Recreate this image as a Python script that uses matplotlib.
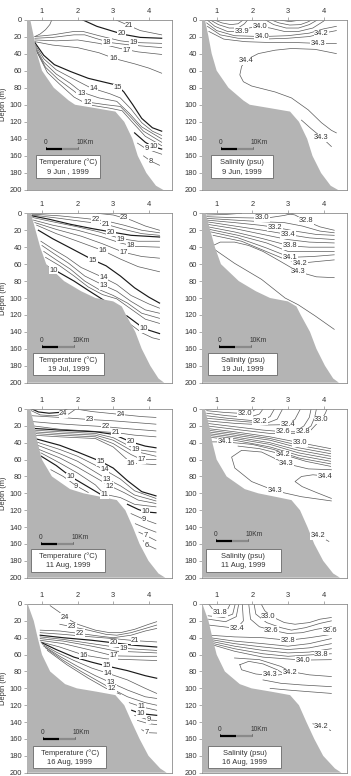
import matplotlib
matplotlib.use("Agg")
import matplotlib.pyplot as plt

plt.rcParams['font.family'] = ['Liberation Sans', 'DejaVu Sans']

# ---------------- axes / common ----------------
STATIONS = [1, 2, 3, 4]
STATION_LABELS = ["1", "2", "3", "4"]
DEPTH_TICKS = [0, 20, 40, 60, 80, 100, 120, 140, 160, 180, 200]
KM_PER_STATION = 11.1
SCALE_KM = 10

# ---------------- bathymetry (station units, depth m) ----------------
BATHY_D = [0, 20, 40, 60, 80, 95, 100, 104, 108, 120, 140, 160, 180, 195, 200]
BATHY_JUN = [0.67, 0.77, 0.86, 1.0, 1.33, 1.75, 1.93, 2.5, 3.06, 3.31, 3.54, 3.69, 3.93, 4.2, 4.41]
BATHY_JUL_D = [0, 20, 40, 60, 80, 92, 100, 104, 110, 120, 140, 160, 180, 195, 200]
BATHY_JUL = [0.69, 0.82, 0.95, 1.12, 1.62, 2.1, 2.5, 3.0, 3.24, 3.36, 3.62, 3.8, 4.04, 4.27, 4.43]
BATHY_AUG11 = [0.67, 0.79, 0.88, 1.0, 1.28, 1.79, 2.17, 2.64, 3.1, 3.34, 3.55, 3.74, 3.99, 4.27, 4.46]
BATHY_AUG16 = [0.6, 0.77, 0.88, 1.0, 1.23, 1.65, 1.98, 2.54, 3.06, 3.31, 3.52, 3.74, 3.99, 4.32, 4.5]

# ---------------- 9 Jun temperature ----------------
T_JUN_LINES = [
    [(3.05, 0), (3.38, 6), (3.76, 13), (4.36, 18)],
    [(2.12, 0), (2.54, 8), (3.01, 14), (3.29, 17.5), (3.76, 21), (4.36, 22)],
    [(1.28, 0), (1.22, 6), (1.1, 12), (0.95, 17), (0.8, 20)],
    [(0.8, 20), (1.3, 18), (1.9, 14), (2.15, 14), (2.6, 19), (3.2, 25), (3.6, 27), (4.36, 28)],
    [(0.8, 22), (1.3, 21), (1.9, 18), (2.2, 18), (2.5, 22), (2.9, 27), (3.5, 30), (4.36, 33)],
    [(0.8, 24), (1.4, 25), (2.0, 24), (2.6, 28), (3.2, 34), (3.7, 38), (4.36, 41)],
    [(0.8, 26), (1.3, 30), (2.0, 33), (2.6, 39), (3.05, 46), (3.6, 52), (4.0, 57), (4.36, 63)],
    [(0.8, 27), (1.05, 42), (1.35, 53), (1.8, 61), (2.3, 69), (2.8, 74), (3.1, 77), (3.3, 85), (3.55, 100), (3.8, 116), (4.1, 127), (4.36, 131)],
    [(0.8, 29), (1.05, 46), (1.4, 59), (1.85, 69), (2.36, 80), (2.9, 87), (3.2, 92), (3.5, 105), (3.8, 121), (4.1, 131), (4.36, 136)],
    [(0.8, 31), (1.05, 50), (1.4, 64), (1.8, 75), (2.1, 85), (2.6, 92), (3.1, 96), (3.45, 110), (3.8, 126), (4.36, 140)],
    [(0.8, 33), (1.1, 56), (1.45, 70), (1.9, 84), (2.3, 97), (2.8, 100), (3.2, 102), (3.5, 115), (3.85, 131), (4.36, 144)],
    [(0.82, 35), (1.15, 62), (1.5, 76), (1.9, 91), (2.3, 100), (2.9, 104), (3.25, 107), (3.55, 121), (3.9, 137), (4.36, 148)],
    [(3.6, 133), (3.9, 144), (4.1, 149), (4.36, 152)],
    [(3.68, 145), (3.9, 151), (4.15, 155), (4.36, 158)],
    [(3.85, 160), (4.05, 166), (4.3, 171)],
]
T_JUN_BOLD = [False, True, False, False, False, False, False, True, False, False, False, False, True, False, False]
T_JUN_LABELS = [("21", 3.45, 7.5), ("20", 3.24, 17), ("19", 3.57, 27), ("18", 2.82, 26.5),
                ("17", 3.38, 36), ("16", 3.0, 45.5), ("15", 3.12, 80), ("14", 2.45, 81),
                ("13", 2.1, 87), ("12", 2.27, 97), ("10", 4.13, 149), ("9", 3.94, 151), ("8", 4.05, 166.5)]

# ---------------- 9 Jun salinity ----------------
S_JUN_LINES = [
    [(0.72, 0), (0.95, 8), (1.3, 14), (1.6, 14), (1.9, 10), (2.2, 8), (2.5, 10), (2.9, 14), (3.3, 14), (3.7, 10), (4.0, 2), (4.05, 0)],
    [(0.8, 0), (1.05, 6), (1.35, 10), (1.6, 10), (1.78, 5), (1.88, 0)],
    [(0.9, 0), (1.15, 4), (1.4, 6), (1.6, 5), (1.76, 0)],
    [(2.35, 0), (2.6, 6), (2.95, 10), (3.3, 10), (3.6, 6), (3.85, 0)],
    [(2.5, 0), (2.75, 4), (3.05, 6.5), (3.35, 6), (3.55, 3), (3.7, 0)],
    [(2.7, 0), (3.05, 2.5), (3.45, 0)],
    [(0.72, 4), (1.0, 13), (1.5, 19), (2.26, 20), (3.0, 19), (3.6, 16), (4.0, 11), (4.36, 8)],
    [(0.74, 8), (1.1, 18), (1.6, 22), (2.3, 23), (3.0, 22), (3.6, 20), (3.94, 16.5), (4.36, 13)],
    [(0.78, 14), (1.2, 23), (1.8, 26), (2.5, 27), (3.2, 27), (3.85, 28), (4.36, 28)],
    [(4.36, 40), (3.76, 35), (3.1, 34), (2.64, 36), (2.17, 40), (1.84, 47), (1.7, 55), (1.65, 65), (1.75, 73),
     (1.98, 78), (2.64, 85), (3.1, 92), (3.57, 106), (3.94, 121), (4.22, 130), (4.36, 133)],
    [(3.38, 118), (3.65, 128), (3.94, 138), (4.22, 149)],
]
S_JUN_BOLD = [False] * len(S_JUN_LINES)
S_JUN_LABELS = [("33.9", 1.7, 13.5), ("34.0", 2.21, 8), ("34.0", 2.26, 19.5), ("34.2", 3.94, 16.5),
                ("34.3", 3.85, 28), ("34.4", 1.84, 48.5), ("34.3", 3.94, 138.5)]

# ---------------- 19 Jul temperature ----------------
T_JUL_LINES = [
    [(2.55, 0), (3.0, 2), (3.5, 8), (3.9, 15), (4.3, 20)],
    [(0.72, 1), (1.5, 3), (2.2, 6), (2.8, 9), (3.3, 14), (3.8, 20), (4.3, 23)],
    [(0.72, 2), (1.5, 6), (2.2, 10), (2.8, 13), (3.3, 19), (3.8, 24), (4.3, 26)],
    [(0.72, 3), (1.2, 7), (1.8, 13), (2.4, 18), (2.94, 22), (3.5, 26), (4.3, 28)],
    [(0.74, 5), (1.3, 10), (2.0, 16), (2.6, 22), (3.22, 30), (3.7, 33), (4.3, 33)],
    [(0.76, 8), (1.3, 14), (2.0, 20), (2.7, 28), (3.2, 35), (3.6, 39), (4.3, 40)],
    [(0.8, 11), (1.4, 19), (2.1, 27), (2.7, 36), (3.29, 46), (3.8, 51), (4.3, 53)],
    [(0.85, 14), (1.4, 24), (2.0, 33), (2.71, 44), (3.2, 54), (3.7, 63), (4.3, 69)],
    [(0.9, 20), (1.3, 30), (1.8, 41), (2.43, 55), (2.8, 62), (3.2, 74), (3.6, 88), (4.0, 99), (4.3, 106)],
    [(0.97, 33), (1.3, 42), (1.7, 52), (2.1, 64), (2.73, 76), (3.1, 84), (3.5, 97), (4.0, 107), (4.3, 112)],
    [(1.0, 38), (1.35, 48), (1.75, 59), (2.2, 74), (2.73, 85), (3.1, 92), (3.5, 104), (3.9, 114), (4.3, 118)],
    [(1.05, 45), (1.4, 55), (1.8, 66), (2.2, 80), (2.6, 90), (3.0, 97), (3.4, 106), (3.8, 118), (4.3, 124)],
    [(1.1, 52), (1.5, 62), (1.9, 74), (2.3, 87), (2.7, 96), (3.1, 101), (3.5, 113), (3.9, 125), (4.3, 130)],
    [(1.12, 62), (1.4, 68), (1.9, 80), (2.3, 91), (2.75, 103)],
    [(3.38, 121), (3.7, 131), (3.85, 136), (4.3, 142)],
    [(3.45, 130), (3.8, 141), (4.1, 147), (4.3, 149)],
]
T_JUL_BOLD = [False, False, False, True, False, False, False, False, True, False, False, False, False, True, True, False]
T_JUL_LABELS = [("23", 3.31, 5.5), ("22", 2.5, 7.5), ("21", 2.8, 13), ("20", 2.94, 22.5), ("19", 3.22, 30.5),
                ("18", 3.48, 38.5), ("17", 3.29, 46.5), ("16", 2.71, 44.5), ("15", 2.43, 55.5), ("14", 2.73, 76),
                ("13", 2.73, 85.5), ("10", 1.33, 67.5), ("10", 3.85, 136)]

# ---------------- 19 Jul salinity ----------------
S_JUL_LINES = [
    [(0.72, 2), (1.2, 1.5), (1.7, 0)],
    [(0.72, 4), (1.4, 5), (2.0, 5.5), (2.5, 5), (2.9, 2.5), (3.15, 0)],
    [(2.95, 0), (3.2, 2), (3.5, 9), (3.9, 16), (4.3, 20)],
    [(0.72, 6), (1.5, 8), (2.3, 10), (2.9, 11), (3.4, 15), (3.9, 21), (4.3, 23)],
    [(0.72, 8), (1.5, 11), (2.2, 14), (2.64, 16.5), (3.2, 21), (3.8, 25), (4.3, 26)],
    [(0.72, 10), (1.5, 15), (2.3, 20), (3.0, 25), (3.6, 29), (4.3, 31)],
    [(0.74, 13), (1.5, 18), (2.3, 25), (3.0, 31), (3.6, 34), (4.3, 35)],
    [(0.76, 16), (1.5, 22), (2.3, 30), (3.06, 38.5), (3.6, 40), (4.3, 40)],
    [(0.8, 19), (1.6, 26), (2.4, 35), (3.0, 45), (3.6, 45), (4.3, 45)],
    [(0.84, 22), (1.6, 29), (2.4, 41), (3.06, 52), (3.7, 51), (4.3, 49)],
    [(0.9, 26), (1.7, 33), (2.5, 47), (2.9, 54), (3.34, 59), (3.8, 57), (4.3, 55)],
    [(4.3, 76), (3.8, 75), (3.29, 69), (2.8, 57), (2.3, 45), (1.9, 38), (1.5, 34), (1.1, 34), (0.9, 38), (0.95, 43),
     (1.5, 59), (2.26, 78), (2.92, 100), (3.29, 108), (3.76, 121), (4.3, 137)],
]
S_JUL_BOLD = [False] * len(S_JUL_LINES)
S_JUL_LABELS = [("33.0", 2.28, 5.5), ("32.8", 3.5, 9), ("33.2", 2.64, 16.5), ("33.4", 3.0, 25),
                ("33.8", 3.06, 38.5), ("34.1", 3.06, 52), ("34.2", 3.34, 59), ("34.3", 3.29, 69)]

# ---------------- 11 Aug temperature ----------------
T_AUG11_LINES = [
    [(0.72, 0), (0.9, 3.5), (1.2, 5), (1.5, 4), (1.7, 0)],
    [(0.7, 2), (0.95, 7), (1.3, 8), (1.75, 6), (1.95, 0)],
    [(1.95, 0), (2.4, 3), (3.21, 6.5), (3.8, 9), (4.2, 10)],
    [(0.72, 8), (1.5, 10), (2.34, 12.5), (3.0, 14), (3.6, 16), (4.2, 18)],
    [(0.75, 15), (1.3, 17), (2.0, 19), (2.78, 21), (3.3, 23), (4.2, 26)],
    [(0.75, 20), (1.5, 24), (2.3, 26), (3.08, 28), (3.6, 31), (4.2, 33)],
    [(0.75, 23), (1.5, 25), (2.5, 27), (3.0, 30), (3.5, 39), (3.9, 44), (4.2, 46)],
    [(0.75, 25), (1.5, 27), (2.5, 29), (3.0, 34), (3.64, 48), (4.2, 51)],
    [(0.75, 27), (1.5, 29), (2.5, 31), (3.0, 37), (3.5, 49), (4.2, 56)],
    [(0.75, 29), (1.5, 31), (2.5, 33), (3.0, 41), (3.5, 54), (3.8, 60), (4.2, 60)],
    [(0.75, 31), (1.5, 33), (2.5, 35), (3.0, 45), (3.5, 64), (4.2, 66)],
    [(0.8, 35), (1.5, 43), (2.0, 51), (2.64, 62), (3.0, 70), (3.4, 85), (3.8, 98), (4.2, 103)],
    [(0.84, 39), (1.5, 48), (2.0, 56), (2.75, 72), (3.2, 83), (3.6, 97), (4.2, 106)],
    [(0.88, 43), (1.5, 53), (2.0, 62), (2.82, 83), (3.2, 91), (3.6, 102), (4.2, 109)],
    [(0.92, 48), (1.5, 58), (2.0, 69), (2.9, 91), (3.3, 99), (3.7, 108), (4.2, 112)],
    [(0.97, 52), (1.5, 64), (2.0, 76), (2.5, 90), (2.75, 101), (3.2, 105), (3.6, 113), (4.2, 116)],
    [(0.98, 56), (1.4, 67), (1.8, 80), (2.2, 90), (2.64, 101), (2.8, 104)],
    [(1.25, 72), (1.6, 80), (1.96, 91), (2.3, 99)],
    [(3.4, 113), (3.7, 119), (3.9, 122), (4.2, 123)],
    [(3.5, 124), (3.87, 131), (4.2, 136)],
    [(3.62, 136), (3.95, 142), (4.2, 146)],
    [(3.72, 146), (3.92, 150), (4.2, 156)],
    [(3.84, 156), (3.94, 161), (4.2, 166)],
]
T_AUG11_BOLD = [True, False, False, False, False, False, True, False, False, False, False, True, False, False, False,
                False, True, False, True, False, False, False, False]
T_AUG11_LABELS = [("24", 1.6, 5.5), ("24", 3.21, 6.5), ("23", 2.34, 12.5), ("22", 2.78, 21), ("21", 3.08, 28),
                  ("20", 3.5, 39), ("19", 3.64, 48.5), ("17", 3.8, 60), ("16", 3.5, 64.5), ("15", 2.64, 62.5),
                  ("14", 2.75, 72), ("13", 2.82, 83.5), ("12", 2.9, 91.5), ("11", 2.75, 101.5), ("10", 1.8, 80.5),
                  ("9", 1.96, 91.5), ("10", 3.9, 122), ("9", 3.87, 131.5), ("7", 3.92, 150), ("6", 3.94, 161.5)]

# ---------------- 11 Aug salinity ----------------
S_AUG11_LINES = [
    [(0.72, 2), (1.2, 4), (1.8, 5.5), (2.0, 3), (2.1, 0)],
    [(0.72, 5), (1.3, 8), (1.9, 10), (2.2, 6), (2.3, 0)],
    [(0.72, 8), (1.3, 11), (2.21, 14.5), (2.5, 9), (2.62, 0)],
    [(0.72, 11), (1.5, 14), (2.4, 17), (2.7, 12), (2.85, 0)],
    [(0.72, 14), (1.5, 17), (2.4, 19), (3.0, 18.5), (3.2, 12), (3.35, 0)],
    [(0.72, 17), (1.5, 21), (2.3, 25), (2.87, 27), (3.2, 27), (3.45, 20), (3.6, 10), (3.65, 0)],
    [(0.72, 20), (1.5, 24), (2.5, 29), (3.2, 29), (3.43, 27), (3.65, 20), (3.75, 10), (3.8, 0)],
    [(3.6, 27), (3.8, 18), (3.94, 13), (4.05, 5), (4.1, 0)],
    [(0.72, 23), (1.5, 27), (2.5, 33), (3.34, 40), (4.2, 47)],
    [(0.72, 25), (1.5, 29), (2.5, 35), (3.3, 43), (4.2, 50)],
    [(0.72, 27), (1.5, 31), (2.5, 37), (3.3, 46), (4.2, 53)],
    [(0.72, 29), (1.5, 33), (2.5, 40), (3.3, 49), (4.2, 56)],
    [(0.72, 31), (1.5, 35), (2.5, 42), (3.3, 52), (4.2, 59)],
    [(0.72, 33), (1.5, 37), (2.5, 45), (3.3, 55), (4.2, 62)],
    [(0.75, 39), (1.23, 39), (2.0, 42), (2.6, 48), (3.3, 58), (4.2, 65)],
    [(1.6, 44), (2.2, 47), (2.87, 54), (3.5, 62), (4.2, 68)],
    [(4.22, 72), (3.57, 71), (2.92, 64.5), (2.26, 51), (1.7, 49), (1.42, 57), (1.51, 70), (1.98, 86), (2.64, 97),
     (3.38, 104), (4.22, 109)],
    [(4.22, 80), (3.7, 78), (3.38, 80), (3.2, 86), (3.4, 92), (3.8, 99), (4.22, 106)],
    [(3.7, 146), (3.85, 150), (4.15, 157)],
]
S_AUG11_BOLD = [False] * len(S_AUG11_LINES)
S_AUG11_LABELS = [("32.0", 1.8, 5.5), ("32.2", 2.21, 14.5), ("32.4", 3.0, 18.5), ("33.0", 3.94, 13),
                  ("32.6", 2.87, 27), ("32.8", 3.43, 27), ("34.1", 1.23, 39), ("33.0", 3.34, 40),
                  ("34.2", 2.87, 54), ("34.3", 2.96, 64.5), ("34.4", 4.04, 80), ("34.3", 2.64, 97),
                  ("34.2", 3.85, 150)]

# ---------------- 16 Aug temperature ----------------
T_AUG16_LINES = [
    [(1.23, 2), (1.5, 10), (1.65, 16), (2.0, 24), (2.5, 31), (2.9, 34), (3.2, 34), (3.6, 30), (4.0, 24), (4.22, 21)],
    [(1.5, 24), (1.84, 27), (2.3, 31), (2.8, 36), (3.1, 37), (3.5, 34), (3.9, 29), (4.22, 25)],
    [(0.95, 31), (1.5, 32), (2.07, 35), (2.6, 38), (3.0, 40), (3.5, 37), (3.9, 32), (4.22, 29)],
    [(0.95, 34), (1.6, 36), (2.4, 39), (3.0, 41), (3.62, 43.5), (4.22, 45)],
    [(0.95, 37), (1.6, 40), (2.4, 43), (3.01, 46), (3.6, 49), (4.22, 51)],
    [(0.95, 39), (1.6, 42), (2.4, 47), (3.29, 52.5), (3.8, 54), (4.22, 55)],
    [(0.95, 41), (1.6, 44), (2.4, 50), (3.1, 56), (3.7, 57), (4.22, 58)],
    [(0.95, 43), (1.6, 47), (2.4, 55), (3.01, 61.5), (3.7, 62), (4.22, 62)],
    [(0.97, 45), (1.5, 51), (2.17, 60.5), (2.8, 65), (3.5, 66), (4.22, 67)],
    [(1.0, 46), (1.4, 54), (1.9, 63), (2.4, 69), (2.82, 73.5), (3.4, 79), (3.9, 85), (4.22, 88)],
    [(1.02, 48), (1.4, 57), (1.9, 67), (2.4, 76), (2.84, 82), (3.4, 90), (3.9, 100), (4.22, 106)],
    [(1.05, 50), (1.5, 62), (2.0, 74), (2.5, 85), (2.92, 93), (3.4, 102), (3.9, 110), (4.22, 112)],
    [(1.1, 52), (1.6, 67), (2.1, 80), (2.6, 92), (2.96, 100.5), (3.4, 110), (3.9, 117), (4.22, 120)],
    [(1.15, 55), (1.7, 72), (2.3, 88), (2.8, 100), (3.2, 107)],
    [(3.45, 117), (3.8, 122), (4.22, 126)],
    [(3.52, 126), (3.78, 130), (4.22, 132)],
    [(3.6, 132), (3.99, 137.5), (4.22, 138)],
    [(3.68, 138), (4.0, 142), (4.22, 143)],
    [(3.8, 149), (3.94, 152.5), (4.22, 153)],
]
T_AUG16_BOLD = [False, False, False, False, True, False, False, False, False, True, False, False, False, False,
                False, True, False, False, False]
T_AUG16_LABELS = [("24", 1.65, 16), ("23", 1.84, 27), ("22", 2.07, 35), ("21", 3.62, 43.5), ("20", 3.01, 46),
                  ("19", 3.29, 52.5), ("17", 3.01, 61.5), ("16", 2.17, 60.5), ("15", 2.82, 73.5), ("14", 2.84, 82),
                  ("13", 2.92, 93), ("12", 2.96, 100.5), ("11", 3.8, 122), ("10", 3.78, 130), ("9", 3.99, 137.5),
                  ("7", 3.94, 152.5)]

# ---------------- 16 Aug salinity ----------------
S_AUG16_LINES = [
    [(0.78, 0), (0.9, 7), (1.09, 10.5), (1.3, 7), (1.38, 0)],
    [(0.76, 14), (1.2, 16), (1.45, 12), (1.52, 0)],
    [(0.77, 18), (1.25, 21), (1.55, 15), (1.62, 0)],
    [(0.78, 25), (1.2, 27), (1.56, 29), (1.75, 20), (1.72, 0)],
    [(2.25, 0), (2.35, 8), (2.55, 15), (2.9, 22), (3.2, 24), (3.6, 22), (3.9, 18), (4.22, 16)],
    [(2.05, 0), (2.1, 12), (2.4, 22), (2.8, 28), (3.1, 31), (3.5, 28), (3.9, 23), (4.22, 20)],
    [(1.9, 0), (1.95, 18), (2.2, 27), (2.54, 31), (3.0, 35), (3.4, 34), (3.8, 30), (4.22, 27)],
    [(0.8, 37), (1.5, 39), (2.3, 40), (3.01, 43), (3.6, 40), (4.22, 36)],
    [(0.82, 40), (1.5, 44), (2.3, 47), (3.0, 50), (3.6, 47), (4.22, 41)],
    [(0.82, 42), (1.5, 47), (2.3, 51), (3.0, 54), (3.6, 52), (4.22, 47)],
    [(0.82, 44), (1.5, 50), (2.3, 55), (3.0, 58), (3.6, 57), (4.22, 53)],
    [(0.82, 46), (1.5, 53), (2.3, 59), (3.0, 62), (3.94, 59.5), (4.22, 59)],
    [(0.85, 48), (1.5, 56), (2.3, 63), (3.43, 66.5), (4.22, 66)],
    [(1.65, 72), (1.9, 68), (2.3, 71), (2.7, 78), (2.9, 83), (2.6, 85), (2.1, 83), (1.7, 78), (1.65, 72)],
    [(1.5, 64), (2.2, 66), (2.8, 74), (3.06, 80), (3.6, 84), (4.22, 86)],
    [(2.3, 90), (2.8, 94), (3.4, 96), (4.22, 98)],
    [(2.5, 100), (3.0, 102), (3.6, 104), (4.22, 106)],
    [(3.7, 142), (3.94, 145), (4.2, 150)],
]
S_AUG16_BOLD = [False] * len(S_AUG16_LINES)
S_AUG16_LABELS = [("31.8", 1.09, 10.5), ("32.4", 1.56, 29), ("33.0", 2.45, 15), ("32.6", 2.54, 31),
                  ("32.6", 4.18, 32), ("32.8", 3.01, 43), ("33.8", 3.94, 59.5), ("34.0", 3.43, 66.5),
                  ("34.3", 2.5, 83), ("34.2", 3.06, 81.5), ("34.2", 3.94, 145)]

# ---------------- panel annotations ----------------
TITLES = [("Temperature (\u00b0C)", "9 Jun , 1999"), ("Salinity (psu)", "9 Jun, 1999"),
          ("Temperature (\u00b0C)", "19 Jul, 1999"), ("Salinity (psu)", "19 Jul, 1999"),
          ("Temperature (\u00b0C)", "11 Aug, 1999"), ("Salinity (psu)", "11 Aug, 1999"),
          ("Temperature (\u00b0C)", "16 Aug, 1999"), ("Salinity (psu)", "16 Aug, 1999")]
SCALEBAR_POS = [(1.11, 152), (1.11, 152), (1.0, 158), (1.07, 158), (0.97, 160), (0.97, 157), (1.02, 160), (1.09, 157)]
BOX_POS = [(0.84, 2.64, 159, 186), (0.84, 2.58, 159, 186), (0.75, 2.73, 165, 191), (0.77, 2.68, 165, 191),
           (0.69, 2.78, 166, 193), (0.69, 2.8, 166, 193), (0.75, 2.8, 168, 195), (0.77, 2.8, 168, 195)]

PANELS = [
    (T_JUN_LINES, T_JUN_BOLD, T_JUN_LABELS, BATHY_JUN, BATHY_D),
    (S_JUN_LINES, S_JUN_BOLD, S_JUN_LABELS, BATHY_JUN, BATHY_D),
    (T_JUL_LINES, T_JUL_BOLD, T_JUL_LABELS, BATHY_JUL, BATHY_JUL_D),
    (S_JUL_LINES, S_JUL_BOLD, S_JUL_LABELS, BATHY_JUL, BATHY_JUL_D),
    (T_AUG11_LINES, T_AUG11_BOLD, T_AUG11_LABELS, BATHY_AUG11, BATHY_D),
    (S_AUG11_LINES, S_AUG11_BOLD, S_AUG11_LABELS, BATHY_AUG11, BATHY_D),
    (T_AUG16_LINES, T_AUG16_BOLD, T_AUG16_LABELS, BATHY_AUG16, BATHY_D),
    (S_AUG16_LINES, S_AUG16_BOLD, S_AUG16_LABELS, BATHY_AUG16, BATHY_D),
]

# ---------------- layout ----------------
W, H = 351, 776
COL_X = [27, 201.7]
AX_W = 145
ROW_TOP = [19.5, 213.3, 409, 604]
ROW_BOT = [190, 382.7, 577.7, 772.7]
XLIM = (0.58, 4.65)

TEXT = "#333333"
SPINE = "#8c8c8c"
GRAY = "#b4b4b4"

fig = plt.figure(figsize=(W / 100, H / 100), dpi=100)

for i, (lines, bold, labels, bx, bd) in enumerate(PANELS):
    r, c = divmod(i, 2)
    left = COL_X[c] / W
    bottom = (H - ROW_BOT[r]) / H
    height = (ROW_BOT[r] - ROW_TOP[r]) / H
    ax = fig.add_axes([left, bottom, AX_W / W, height])
    ax.set_xlim(*XLIM)
    ax.set_ylim(200, 0)

    for ln, b in zip(lines, bold):
        xs = [p[0] for p in ln]
        ds = [p[1] for p in ln]
        if b:
            ax.plot(xs, ds, color="#1a1a1a", lw=0.85, zorder=2)
        else:
            ax.plot(xs, ds, color="#5a5a5a", lw=0.5, zorder=2)

    # bathymetry (sea floor)
    px = [XLIM[0]] + list(bx) + [XLIM[0]]
    py = [0] + list(bd) + [200]
    ax.fill(px, py, color=GRAY, lw=0, zorder=3)

    for s, x, d in labels:
        ax.text(x, d, s, fontsize=5.4, color=TEXT, ha='center', va='center', zorder=5,
                bbox=dict(facecolor='white', edgecolor='none', pad=0.4))

    # scale bar
    sx, sd = SCALEBAR_POS[i]
    half = SCALE_KM / 2 / KM_PER_STATION
    ax.plot([sx, sx + half], [sd, sd], color="black", lw=1.6, zorder=6, solid_capstyle='butt')
    ax.plot([sx + half, sx + 2 * half], [sd, sd], color="#8a8a8a", lw=1.6, zorder=6, solid_capstyle='butt')
    ax.plot([sx, sx], [sd - 2.5, sd], color="black", lw=0.5, zorder=6)
    ax.plot([sx + 2 * half, sx + 2 * half], [sd - 2.5, sd], color="#555555", lw=0.5, zorder=6)
    ax.text(sx, sd - 3.5, "0", fontsize=4.8, color=TEXT, ha='center', va='bottom', zorder=6)
    ax.text(sx + 2 * half - 0.05, sd - 3.5, "%dKm" % SCALE_KM, fontsize=4.8, color=TEXT, ha='left',
            va='bottom', zorder=6)

    # title box
    x0, x1, d0, d1 = BOX_POS[i]
    ax.fill([x0, x1, x1, x0], [d0, d0, d1, d1], facecolor='white', edgecolor='#777777', lw=0.7, zorder=6)
    t1, t2 = TITLES[i]
    xm = (x0 + x1) / 2
    ax.text(xm, d0 + (d1 - d0) * 0.33, t1, fontsize=5.4, color=TEXT, ha='center', va='center', zorder=7)
    ax.text(xm, d0 + (d1 - d0) * 0.72, t2, fontsize=5.4, color=TEXT, ha='center', va='center', zorder=7)

    # axes styling
    ax.xaxis.tick_top()
    ax.set_xticks(STATIONS)
    ax.set_xticklabels(STATION_LABELS)
    ax.set_yticks(DEPTH_TICKS)
    ax.tick_params(axis='both', direction='out', length=2, width=0.5, colors=SPINE,
                   labelsize=5.4, labelcolor=TEXT, pad=1.5)
    for sp in ax.spines.values():
        sp.set_color(SPINE)
        sp.set_linewidth(0.6)
    if c == 0:
        ax.set_ylabel("Depth (m)", fontsize=5.4, color=TEXT, labelpad=1.5)

fig.savefig("out.png", dpi=100)
